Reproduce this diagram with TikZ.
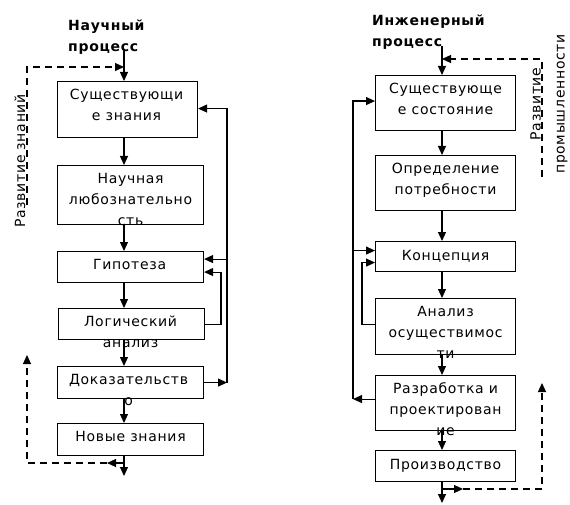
\documentclass[tikz,border=0pt]{standalone}
\usepackage{fontspec}
\setmainfont{DejaVu Sans}
\newfontfamily\lblfont[LetterSpace=5]{DejaVu Sans}
\usetikzlibrary{arrows.meta,calc}
\begin{document}
\begin{tikzpicture}[x=1pt,y=-1pt,
  box/.style={draw, line width=1.1pt, inner sep=0pt, anchor=north west},
  lbl/.style={font=\lblfont\fontsize{14}{21}\selectfont, inner sep=0pt, align=center, anchor=north},
  ttl/.style={font=\lblfont\bfseries\fontsize{14}{21}\selectfont, inner sep=0pt, align=left, anchor=north west},
  vlbl/.style={font=\lblfont\fontsize{14}{21}\selectfont, inner sep=0pt, align=center, rotate=90},
  tip/.style={-{Triangle[length=9pt,width=8pt]}},
  arr/.style={line width=1.1pt, tip},
  dsh/.style={line width=1.1pt, dash pattern=on 7pt off 5pt, tip}
]
\useasboundingbox (0,0) rectangle (570,505);
\fill[white] (0,0) rectangle (570,505);

% ---------- titles ----------
\node[ttl] (t1) at (68,16) {\strut Научный\\процесс};
\node[ttl] (t2) at (372,11) {\strut Инженерный\\процесс};

% ---------- left column boxes ----------
\node[box, minimum width=140pt, minimum height=56pt] (L1) at (57,81) {};
\node[box, minimum width=146pt, minimum height=59pt] (L2) at (57,165) {};
\node[box, minimum width=146pt, minimum height=31pt] (L3) at (57,251) {};
\node[box, minimum width=146pt, minimum height=31pt] (L4) at (58,308) {};
\node[box, minimum width=146pt, minimum height=32pt] (L5) at (57,366) {};
\node[box, minimum width=146pt, minimum height=32pt] (L6) at (57,423) {};

\node[lbl] (L1t) at ($(L1.north)+(-1,4)$) {\strut Существующи\\е знания};
\node[lbl] (L2t) at ($(L2.north)+(0,4)$) {\strut Научная\\любознательно\\сть};
\node[lbl] (L3t) at ($(L3.north)+(-1,4)$) {\strut Гипотеза};
\node[lbl] (L4t) at ($(L4.north)+(-1,4)$) {\strut Логический\\анализ};
\node[lbl] (L5t) at ($(L5.north)+(-2,4)$) {\strut Доказательств\\о};
\node[lbl] (L6t) at ($(L6.north)+(0,4)$) {\strut Новые знания};

% ---------- right column boxes ----------
\node[box, minimum width=140pt, minimum height=55pt] (R1) at (375,75) {};
\node[box, minimum width=140pt, minimum height=55pt] (R2) at (375,155) {};
\node[box, minimum width=140pt, minimum height=30pt] (R3) at (375,241) {};
\node[box, minimum width=140pt, minimum height=56pt] (R4) at (375,298) {};
\node[box, minimum width=140pt, minimum height=55pt] (R5) at (375,375) {};
\node[box, minimum width=140pt, minimum height=31pt] (R6) at (375,450) {};

\node[lbl] (R1t) at ($(R1.north)+(0,4)$) {\strut Существующе\\е состояние};
\node[lbl] (R2t) at ($(R2.north)+(0,4)$) {\strut Определение\\потребности};
\node[lbl] (R3t) at ($(R3.north)+(0,5)$) {\strut Концепция};
\node[lbl] (R4t) at ($(R4.north)+(0,4)$) {\strut Анализ\\осуществимос\\ти};
\node[lbl] (R5t) at ($(R5.north)+(0,4)$) {\strut Разработка и\\проектирован\\ие};
\node[lbl] (R6t) at ($(R6.north)+(0,5)$) {\strut Производство};

% ---------- vertical labels ----------
\node[vlbl] (devL) at (20,161) {Развитие знаний};
\node[vlbl] (devR) at (549,104) {Развитие\\[3pt]промышленности};

% ---------- helper coordinates ----------
\coordinate (al) at (124,0);
\coordinate (ar) at (442,0);
\coordinate (rl) at (227,0);
\coordinate (sl) at (221,0);
\coordinate (ll) at (353,0);
\coordinate (sr) at (362,0);
\coordinate (inL) at (124,50);
\coordinate (inR) at (442,46);

% ---------- left main flow ----------
\draw[arr] (inL) -- (L1.north -| al);
\draw[arr] (L1.south -| al) -- (L2.north -| al);
\draw[arr] (L2.south -| al) -- (L3.north -| al);
\draw[arr] (L3.south -| al) -- (L4.north -| al);
\draw[arr] (L4.south -| al) -- (L5.north -| al);
\draw[arr] (L5.south -| al) -- (L6.north -| al);
\coordinate (outL) at (124,476);
\draw[arr] (L6.south -| al) -- (outL);

% left loops
\draw[arr] (L5.east) -- (L5.east -| rl);
\draw[arr] (L5.east -| rl) -- ($(L1.east -| rl)+(0,-1)$) -- ($(L1.east)+(0,-1)$);
\draw[arr] ($(L3.east -| rl)+(0,-8)$) -- ($(L3.east)+(0,-8)$);
\draw[arr] (L4.east) -- (L4.east -| sl) -- ($(L3.east -| sl)+(0,5)$) -- ($(L3.east)+(0,5)$);

% left dashed
\coordinate (dlTop) at (27,205);
\coordinate (dlHit) at (124,67);
\draw[dsh] (dlTop) -- (27,67) -- (dlHit);
\coordinate (blJ) at (124,463);
\coordinate (blA) at (107,463);
\coordinate (blEnd) at (27,355);
\draw[arr] (blJ) -- (blA);
\draw[dsh] (blA) -- (27,463) -- (blEnd);

% ---------- right main flow ----------
\draw[arr] (inR) -- (R1.north -| ar);
\draw[arr] (R1.south -| ar) -- (R2.north -| ar);
\draw[arr] (R2.south -| ar) -- (R3.north -| ar);
\draw[arr] (R3.south -| ar) -- (R4.north -| ar);
\draw[arr] (R4.south -| ar) -- (R5.north -| ar);
\draw[arr] (R5.south -| ar) -- (R6.north -| ar);
\coordinate (outR) at (442,503);
\draw[arr] (R6.south -| ar) -- (outR);

% right loops
\draw[arr] ($(R5.west)+(0,-4)$) -- ($(R5.west -| ll)+(0,-4)$);
\draw[arr] ($(R5.west -| ll)+(0,-4)$) -- ($(R1.west -| ll)+(0,-2)$) -- ($(R1.west)+(0,-2)$);
\draw[arr] ($(R3.west -| ll)+(0,-6)$) -- ($(R3.west)+(0,-6)$);
\draw[arr] ($(R4.west)+(0,-2)$) -- ($(R4.west -| sr)+(0,-2)$) -- ($(R3.west -| sr)+(0,6)$) -- ($(R3.west)+(0,6)$);

% right dashed
\coordinate (drTop) at (542,177);
\coordinate (drHit) at (442,59);
\draw[dsh] (drTop) -- (542,59) -- (drHit);
\coordinate (brJ) at (442,489);
\coordinate (brA) at (463,489);
\coordinate (brEnd) at (542,383);
\draw[arr] (brJ) -- (brA);
\draw[dsh] (brA) -- (542,489) -- (brEnd);
\end{tikzpicture}
\end{document}
